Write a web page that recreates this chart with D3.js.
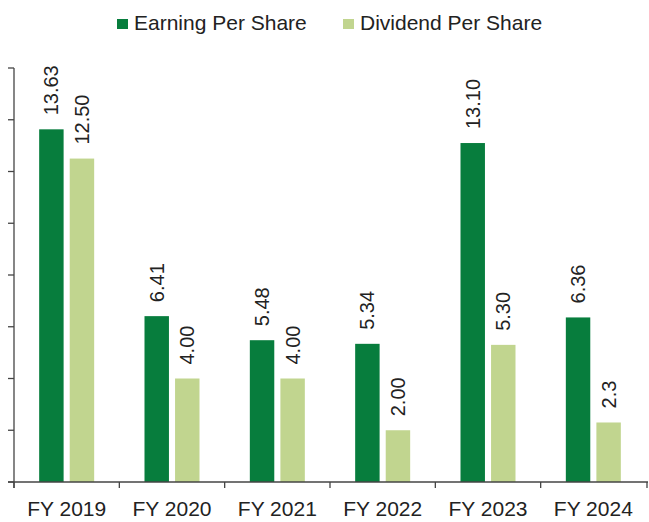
<!DOCTYPE html>
<html>
<head>
<meta charset="utf-8">
<script src="https://cdn.jsdelivr.net/npm/d3@7"></script>
<style>
  body { margin: 0; background: #fff; }
  text { font-family: "Liberation Sans", Arial, sans-serif; fill: #222; }
</style>
</head>
<body>
<div class="chart"></div>
<script>
// chart data
const years = ["FY 2019", "FY 2020", "FY 2021", "FY 2022", "FY 2023", "FY 2024"];
const seriesNames = ["Earning Per Share", "Dividend Per Share"];
const eps = [13.63, 6.41, 5.48, 5.34, 13.10, 6.36];
const dps = [12.50, 4.00, 4.00, 2.00, 5.30, 2.3];
const epsLabels = ["13.63", "6.41", "5.48", "5.34", "13.10", "6.36"];
const dpsLabels = ["12.50", "4.00", "4.00", "2.00", "5.30", "2.3"];
const yTicks = [0, 2, 4, 6, 8, 10, 12, 14, 16];
const colors = ["#077d3d", "#c1d58f"];

const width = 649, height = 522;
const axisColor = "#444";

const svg = d3.select(".chart").append("svg")
    .attr("width", width)
    .attr("height", height);

const x = d3.scaleBand().domain(years).range([14, 646]).padding(0);
const y = d3.scaleLinear().domain([0, 16]).range([482, 68]);

// rows: one per year, with both series
const rows = years.map((yr, i) => ({
    year: yr,
    vals: [
        { s: 0, v: eps[i], label: epsLabels[i] },
        { s: 1, v: dps[i], label: dpsLabels[i] }
    ]
}));

const inner = d3.scaleBand().domain([0, 1]).paddingInner(0.2);

// y axis (ticks only, no labels)
svg.append("line")
    .attr("x1", 14).attr("x2", 14)
    .attr("y1", y(16)).attr("y2", 488)
    .attr("stroke", axisColor).attr("stroke-width", 1.3);
svg.selectAll(".ytick")
    .data(yTicks)
    .enter()
    .append("line")
    .attr("class", "ytick")
    .attr("x1", 8).attr("x2", 14)
    .attr("y1", d => y(d)).attr("y2", d => y(d))
    .attr("stroke", axisColor).attr("stroke-width", 1.3);

// bars
const groups = svg.selectAll(".grp")
    .data(rows)
    .enter()
    .append("g")
    .attr("class", "grp");

groups.each(function(d) {
    const c = x(d.year) + x.bandwidth() / 2;
    inner.range([c - 27.5, c + 27.5]);
    const g = d3.select(this);
    const xs = d.vals.map(v => inner(v.s));
    const bw = inner.bandwidth();

    g.selectAll("rect")
        .data(d.vals)
        .enter()
        .append("rect")
        .attr("x", (v, i) => xs[i])
        .attr("y", v => y(v.v))
        .attr("width", bw)
        .attr("height", v => y(0) - y(v.v))
        .attr("fill", v => colors[v.s]);

    g.selectAll("text")
        .data(d.vals)
        .enter()
        .append("text")
        .attr("transform", (v, i) => `translate(${xs[i] + bw / 2 + 7}, ${y(v.v) - 14}) rotate(-90)`)
        .attr("font-size", 20)
        .text(v => v.label);
});

// x axis
svg.append("line")
    .attr("x1", 8).attr("x2", 648)
    .attr("y1", y(0)).attr("y2", y(0))
    .attr("stroke", axisColor).attr("stroke-width", 1.3);
const bounds = years.map(yr => x(yr)).concat([x.range()[1] + 1]);
svg.selectAll(".xtick")
    .data(bounds)
    .enter()
    .append("line")
    .attr("x1", d => d).attr("x2", d => d)
    .attr("y1", y(0)).attr("y2", y(0) + 6)
    .attr("stroke", axisColor).attr("stroke-width", 1.3);
svg.selectAll(".xlabel")
    .data(years)
    .enter()
    .append("text")
    .attr("x", d => x(d) + x.bandwidth() / 2)
    .attr("y", 516)
    .attr("text-anchor", "middle")
    .attr("font-size", 21)
    .text(d => d);

// legend
const legendX = [117, 343];
const legend = svg.selectAll(".legend")
    .data(seriesNames)
    .enter()
    .append("g")
    .attr("transform", (d, i) => `translate(${legendX[i]}, 19)`);
legend.append("rect")
    .attr("width", 11).attr("height", 10)
    .attr("fill", (d, i) => colors[i]);
legend.append("text")
    .attr("x", 17)
    .attr("y", 11)
    .attr("font-size", 21)
    .text(d => d);
</script>
</body>
</html>
